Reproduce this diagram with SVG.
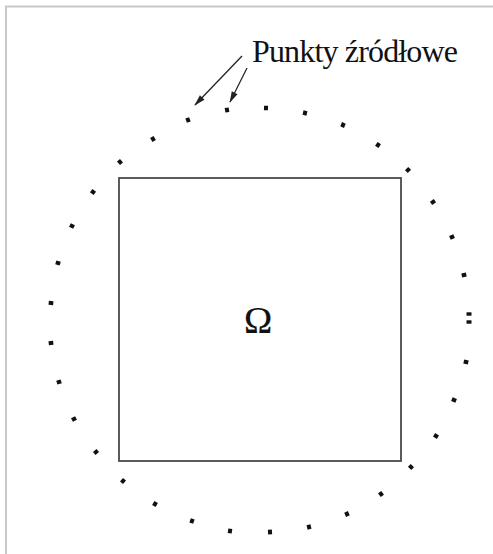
<svg xmlns="http://www.w3.org/2000/svg" width="493" height="554" viewBox="0 0 493 554">
<style>
.frame{fill:none;stroke:#c8c8c8;stroke-width:2}
.dom{fill:none;stroke:#4a4a4a;stroke-width:1.8}
.conn{stroke:#222;stroke-width:1.3;fill:none}
.lbl{font-family:"Liberation Serif","Times New Roman",serif;fill:#111}
.d{fill:#111}
</style>
<defs>
<marker id="ah" viewBox="0 0 14 10" refX="13" refY="5" markerWidth="13" markerHeight="8" markerUnits="userSpaceOnUse" orient="auto">
<path d="M0,1 L14,5 L0,9 Z" fill="#222"/>
</marker>
<rect id="dot" x="-2.3" y="-2" width="4.6" height="4"/>
</defs>
<rect width="493" height="554" fill="#fff"/>
<path class="frame" d="M6,554 V6.5 H493"/>
<g id="omega-domain">
<rect class="dom" x="119" y="178" width="282" height="283"/>
<text class="lbl" x="258" y="333" font-size="38" text-anchor="middle" stroke="#111" stroke-width="0.2">Ω</text>
</g>
<g id="label">
<text class="lbl" x="252" y="62" font-size="32" textLength="206">Punkty źródłowe</text>
</g>
<g id="connectors">
<line class="conn" x1="242" y1="56" x2="195" y2="105" marker-end="url(#ah)"/>
<line class="conn" x1="247" y1="68" x2="230" y2="102" marker-end="url(#ah)"/>
</g>
<g id="source-points" class="d">
<use href="#dot" transform="translate(188,120) rotate(-110)"/>
<use href="#dot" transform="translate(227,110) rotate(-99)"/>
<use href="#dot" transform="translate(266,108) rotate(-88)"/>
<use href="#dot" transform="translate(305,113) rotate(-78)"/>
<use href="#dot" transform="translate(343,125) rotate(-67)"/>
<use href="#dot" transform="translate(378,145) rotate(-56)"/>
<use href="#dot" transform="translate(408,170) rotate(-45)"/>
<use href="#dot" transform="translate(433,202) rotate(-34)"/>
<use href="#dot" transform="translate(452,237) rotate(-23)"/>
<use href="#dot" transform="translate(464,275) rotate(-12)"/>
<rect x="466.5" y="312.3" width="5" height="3.4"/>
<rect x="466.5" y="320.3" width="5" height="3.4"/>
<use href="#dot" transform="translate(466,362) rotate(12)"/>
<use href="#dot" transform="translate(454,400) rotate(22)"/>
<use href="#dot" transform="translate(436,436) rotate(33)"/>
<use href="#dot" transform="translate(411,467) rotate(44)"/>
<use href="#dot" transform="translate(381,494) rotate(55)"/>
<use href="#dot" transform="translate(347,514) rotate(66)"/>
<use href="#dot" transform="translate(309,527) rotate(77)"/>
<use href="#dot" transform="translate(270,532) rotate(87)"/>
<use href="#dot" transform="translate(230,531) rotate(98)"/>
<use href="#dot" transform="translate(192,521) rotate(109)"/>
<use href="#dot" transform="translate(155,504) rotate(120)"/>
<use href="#dot" transform="translate(123,481) rotate(130)"/>
<use href="#dot" transform="translate(96,452) rotate(141)"/>
<use href="#dot" transform="translate(74,419) rotate(152)"/>
<use href="#dot" transform="translate(59,382) rotate(163)"/>
<use href="#dot" transform="translate(51,343) rotate(174)"/>
<use href="#dot" transform="translate(51,303) rotate(-175)"/>
<use href="#dot" transform="translate(58,263) rotate(-164)"/>
<use href="#dot" transform="translate(72,226) rotate(-153)"/>
<use href="#dot" transform="translate(93,192) rotate(-142)"/>
<use href="#dot" transform="translate(120,162) rotate(-131)"/>
<use href="#dot" transform="translate(153,139) rotate(-121)"/>
</g>
</svg>
